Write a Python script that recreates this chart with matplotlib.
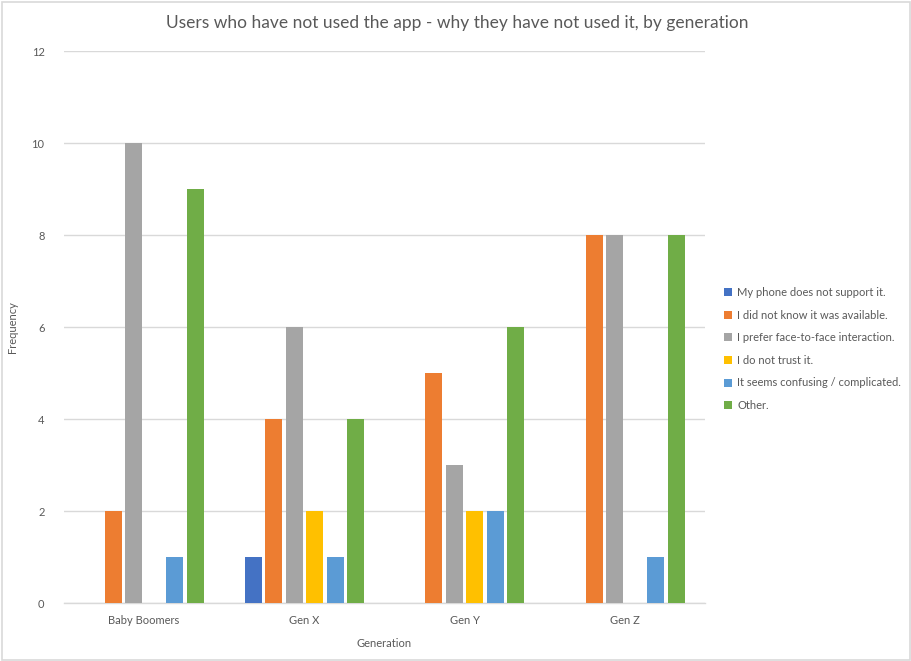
import numpy as np
import matplotlib
matplotlib.use("Agg")
import matplotlib.pyplot as plt
from matplotlib.patches import Rectangle

# Survey results: reasons for not using the app, grouped by generation
generations = ["Baby Boomers", "Gen X", "Gen Y", "Gen Z"]
reasons = [
    "My phone does not support it.",
    "I did not know it was available.",
    "I prefer face-to-face interaction.",
    "I do not trust it.",
    "It seems confusing / complicated.",
    "Other.",
]
phone_unsupported = [0, 1, 0, 0]
not_aware = [2, 4, 5, 8]
prefer_face_to_face = [10, 6, 3, 8]
no_trust = [0, 2, 2, 0]
confusing = [1, 1, 2, 1]
other = [9, 4, 6, 8]
series = [phone_unsupported, not_aware, prefer_face_to_face, no_trust, confusing, other]
colors = ["#4472C4", "#ED7D31", "#A5A5A5", "#FFC000", "#5B9BD5", "#70AD47"]
yticks = [0, 2, 4, 6, 8, 10, 12]

plt.rcParams["font.family"] = ["Lato", "DejaVu Sans"]
text_color = "#595959"
grid_color = "#D9D9D9"

W, H = 911, 661
fig = plt.figure(figsize=(W / 100, H / 100), dpi=100)
fig.patch.set_facecolor("white")

# thin frame around the whole chart
fig.add_artist(Rectangle((1.5 / W, 1.5 / H), (W - 3) / W, (H - 3) / H,
                         transform=fig.transFigure, fill=False,
                         edgecolor=grid_color, linewidth=1.2))

ax = fig.add_axes([64 / W, (H - 603) / H, (705 - 64) / W, (603 - 51) / H])

x = np.arange(len(generations))
slot = 0.128
bar_w = 0.105
n = len(series)
for i, (vals, name, col) in enumerate(zip(series, reasons, colors)):
    offs = (i - (n - 1) / 2) * slot
    ax.bar(x + offs, vals, width=bar_w, color=col, label=name, zorder=3)

ax.set_xlim(-0.5, len(generations) - 0.5)
ax.set_ylim(0, 12)
ax.set_yticks(yticks)
ax.set_xticks(x)
ax.set_xticklabels(generations)
ax.tick_params(axis="both", length=0, labelsize=8, colors=text_color)
ax.tick_params(axis="y", pad=14)
ax.tick_params(axis="x", pad=9)
ax.yaxis.grid(True, color=grid_color, linewidth=1, zorder=0)
ax.set_axisbelow(True)
for side in ["top", "right", "left"]:
    ax.spines[side].set_visible(False)
ax.spines["bottom"].set_color(grid_color)
ax.spines["bottom"].set_linewidth(1)

ax.set_ylabel("Frequency", fontsize=8, color=text_color, labelpad=10)
ax.set_xlabel("Generation", fontsize=8, color=text_color, labelpad=8)

fig.text(457 / W, 1 - 23 / H,
         "Users who have not used the app - why they have not used it, by generation",
         ha="center", va="center", fontsize=12.5, color=text_color,
         fontweight="normal")

ax.legend(loc="center left", bbox_to_anchor=(714 / W, 1 - 349 / H),
          bbox_transform=fig.transFigure, frameon=False, fontsize=8,
          labelcolor=text_color, handlelength=0.7, handleheight=0.7,
          handletextpad=0.5, labelspacing=1.05)

fig.savefig("out.png", dpi=100, facecolor="white")
